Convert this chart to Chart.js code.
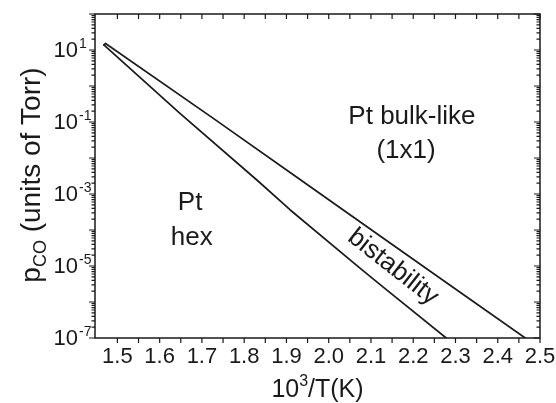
<!DOCTYPE html>
<html><head><meta charset="utf-8">
<script src="https://cdn.jsdelivr.net/npm/chart.js@4/dist/chart.umd.min.js"></script>
<style>html,body{margin:0;padding:0;background:#fff}#wrap{width:556px;height:403px}</style>
</head><body><div id="wrap"><canvas id="c" width="556" height="403"></canvas></div>
<script>
// ---- data ----
const upperX = [1.468, 1.472, 1.727, 1.928, 2.141, 2.310, 2.465];
const upperP = [13.8, 15.2, 0.126, 2.75e-3, 4.7e-5, 1.9e-6, 1.0e-7];
const lowerX = [1.468, 1.4725, 1.648, 1.830, 1.909, 2.074, 2.129, 2.278];
const lowerP = [13.8, 12.5, 0.174, 2.45e-3, 3.6e-4, 8.7e-6, 2.6e-6, 1.0e-7];
const xTickValues = [1.5, 1.6, 1.7, 1.8, 1.9, 2.0, 2.1, 2.2, 2.3, 2.4, 2.5];
const xTickLabels = ['1.5','1.6','1.7','1.8','1.9','2.0','2.1','2.2','2.3','2.4','2.5'];
const yLabelExps = [-7, -5, -3, -1, 1];
const yDecadeExps = [-7, -6, -5, -4, -3, -2, -1, 0, 1, 2];
const regionLabels = [
  {text:'Pt bulk-like', x:2.197, y:0.138, rot:0},
  {text:'(1x1)', x:2.183, y:0.0156, rot:0},
  {text:'Pt', x:1.672, y:5.6e-4, rot:0},
  {text:'hex', x:1.676, y:6.0e-5, rot:0},
  {text:'bistability', x:2.152, y:9.3e-6, rot:38}
];

const FF = '"Liberation Sans", Arial, Helvetica, sans-serif';
const ink = '#1a1a1a';

const deco = {
  id: 'deco',
  afterDraw(chart) {
    const {ctx, chartArea: a, scales: {x, y}} = chart;
    ctx.save();
    // frame
    ctx.strokeStyle = ink; ctx.lineWidth = 1.5;
    ctx.strokeRect(a.left, a.top, a.right - a.left, a.bottom - a.top);
    // x ticks (major 0.1, minor 0.05)
    ctx.lineWidth = 1.2;
    ctx.beginPath();
    for (let i = 0; i <= 21; i++) {
      const v = 1.45 + i * 0.05;
      if (v <= x.min + 0.005 || v > x.max + 1e-9) continue;
      const px = x.getPixelForValue(v);
      ctx.moveTo(px, a.bottom); ctx.lineTo(px, a.bottom + 5);
      ctx.moveTo(px, a.top); ctx.lineTo(px, a.top + 5);
    }
    // y ticks (decades major, 2..9 minor)
    yDecadeExps.forEach(e => {
      const py = y.getPixelForValue(Math.pow(10, e));
      ctx.moveTo(a.left, py); ctx.lineTo(a.left - 6, py);
      ctx.moveTo(a.right, py); ctx.lineTo(a.right - 6, py);
      if (e < 2) {
        for (let m = 2; m <= 9; m++) {
          const pm = y.getPixelForValue(m * Math.pow(10, e));
          ctx.moveTo(a.left, pm); ctx.lineTo(a.left - 3.5, pm);
          ctx.moveTo(a.right, pm); ctx.lineTo(a.right - 3.5, pm);
        }
      }
    });
    ctx.stroke();

    ctx.fillStyle = ink;
    // x tick labels
    ctx.font = '22px ' + FF;
    ctx.textAlign = 'center'; ctx.textBaseline = 'middle';
    xTickValues.forEach((v, i) => {
      ctx.fillText(xTickLabels[i], x.getPixelForValue(v), 357);
    });
    // y tick labels 10^e
    yLabelExps.forEach(e => {
      const py = y.getPixelForValue(Math.pow(10, e));
      ctx.font = '22px ' + FF;
      ctx.textAlign = 'right'; ctx.textBaseline = 'middle';
      ctx.fillText('10', 78, py + 1);
      ctx.font = '14px ' + FF;
      ctx.textAlign = 'left'; ctx.textBaseline = 'alphabetic';
      ctx.fillText(String(e), 79, py - 2);
    });
    // x title: 10^3/T(K)
    {
      const big = '25px ' + FF, sup = '16px ' + FF;
      ctx.textBaseline = 'alphabetic'; ctx.textAlign = 'left';
      ctx.font = big; const w1 = ctx.measureText('10').width, w3 = ctx.measureText('/T(K)').width;
      ctx.font = sup; const w2 = ctx.measureText('3').width;
      const cx = (a.left + a.right) / 2, base = 397;
      let sx = cx - (w1 + w2 + w3) / 2;
      ctx.font = big; ctx.fillText('10', sx, base); sx += w1;
      ctx.font = sup; ctx.fillText('3', sx, base - 11); sx += w2;
      ctx.font = big; ctx.fillText('/T(K)', sx, base);
    }
    // y title: p_CO (units of Torr)
    {
      const big = '28px ' + FF, sub = '18px ' + FF;
      ctx.save();
      ctx.translate(40, 175);
      ctx.rotate(-Math.PI / 2);
      ctx.textBaseline = 'alphabetic'; ctx.textAlign = 'left';
      ctx.font = big; const w1 = ctx.measureText('p').width, w3 = ctx.measureText(' (units of Torr)').width;
      ctx.font = sub; const w2 = ctx.measureText('CO').width;
      let sx = -(w1 + w2 + w3) / 2;
      ctx.font = big; ctx.fillText('p', sx, 0); sx += w1;
      ctx.font = sub; ctx.fillText('CO', sx, 6); sx += w2;
      ctx.font = big; ctx.fillText(' (units of Torr)', sx, 0);
      ctx.restore();
    }
    // region labels
    ctx.font = '26px ' + FF;
    ctx.textAlign = 'center'; ctx.textBaseline = 'middle';
    regionLabels.forEach(l => {
      ctx.save();
      ctx.translate(x.getPixelForValue(l.x), y.getPixelForValue(l.y));
      ctx.rotate(l.rot * Math.PI / 180);
      ctx.fillText(l.text, 0, 0);
      ctx.restore();
    });
    ctx.restore();
  }
};

const mk = (xs, ps) => xs.map((v, i) => ({x: v, y: ps[i]}));

new Chart(document.getElementById('c'), {
  type: 'scatter',
  data: {
    datasets: [
      {data: mk(upperX, upperP), showLine: true, borderColor: ink, borderWidth: 1.7, pointRadius: 0, tension: 0, borderJoinStyle: 'round', borderCapStyle: 'round'},
      {data: mk(lowerX, lowerP), showLine: true, borderColor: ink, borderWidth: 1.7, pointRadius: 0, tension: 0, borderJoinStyle: 'round', borderCapStyle: 'round'}
    ]
  },
  options: {
    responsive: false, devicePixelRatio: 1, animation: false,
    layout: {padding: {top: 14, right: 16, left: 0, bottom: 0}},
    plugins: {legend: {display: false}, tooltip: {enabled: false}},
    scales: {
      x: {type: 'linear', min: 1.447, max: 2.5,
          ticks: {display: false}, grid: {display: false, drawTicks: false}, border: {display: false},
          afterFit(s) { s.height = 65; }},
      y: {type: 'logarithmic', min: 1e-7, max: 1e2,
          ticks: {display: false}, grid: {display: false, drawTicks: false}, border: {display: false},
          afterFit(s) { s.width = 95; }}
    }
  },
  plugins: [deco]
});
</script>
</body></html>
